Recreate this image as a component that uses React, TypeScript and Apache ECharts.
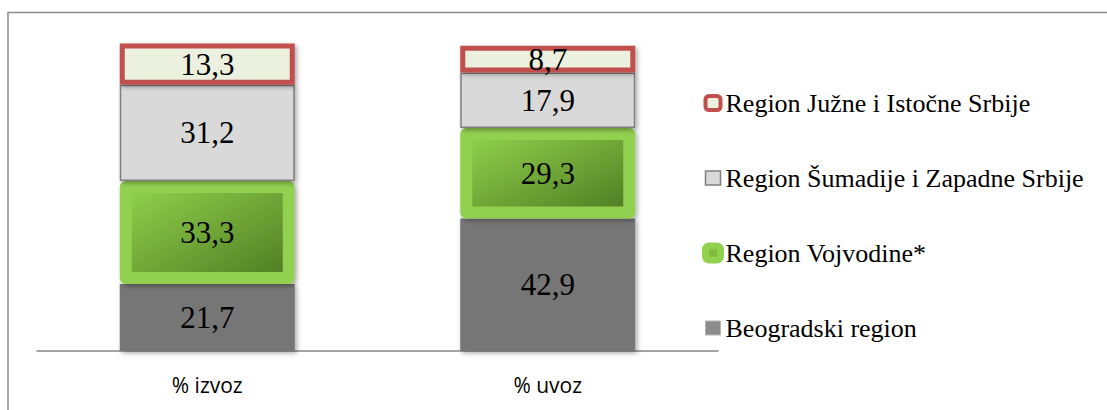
import React, { useEffect, useRef } from "react";
import * as echarts from "echarts";

const categories = ["% izvoz", "% uvoz"];
const seriesNames = [
  "Beogradski region",
  "Region Vojvodine*",
  "Region Šumadije i Zapadne Srbije",
  "Region Južne i Istočne Srbije",
];
const beogradValues = [21.7, 42.9];
const vojvodinaValues = [33.3, 29.3];
const sumadijaValues = [31.2, 17.9];
const juznaValues = [13.3, 8.7];
const yMax = 100;

const SERIF = "Liberation Serif";
const SANS = "Open Sans";

export default function App() {
  const ref = useRef<HTMLDivElement>(null);
  useEffect(() => {
    if (!ref.current) return;
    const chart = echarts.init(ref.current, undefined, { renderer: "svg" });
    const label = {
      show: true,
      position: "inside",
      fontFamily: SERIF,
      fontSize: 31,
      color: "#000",
      formatter: (p: any) => String(p.value).replace(".", ","),
    };
    const shadow = {
      shadowBlur: 5,
      shadowColor: "rgba(0,0,0,0.35)",
      shadowOffsetX: 2,
      shadowOffsetY: 2,
    };
    chart.setOption({
      animation: false,
      graphic: [
        {
          type: "rect",
          shape: { x: 8, y: 12.5, width: 1300, height: 600 },
          style: { fill: "none", stroke: "#8c8c8c", lineWidth: 1.5 },
          z: -10,
          silent: true,
        },
      ],
      grid: { left: 37, right: 389, top: 42, bottom: 59 },
      xAxis: {
        type: "category",
        data: categories,
        axisTick: { show: false },
        axisLine: { lineStyle: { color: "#868686", width: 1.5 } },
        axisLabel: { fontFamily: SANS, fontSize: 21, color: "#000", margin: 23 },
      },
      yAxis: { type: "value", min: 0, max: yMax, show: false, splitLine: { show: false } },
      legend: {
        orient: "vertical",
        left: 702,
        top: 90,
        padding: 0,
        itemGap: 49,
        itemWidth: 15,
        itemHeight: 14,
        textStyle: { fontFamily: SERIF, fontSize: 26, lineHeight: 26, color: "#000" },
        data: [
          {
            name: seriesNames[3],
            icon: "roundRect",
            itemStyle: { color: "#ebf1de", borderColor: "#c0504d", borderWidth: 4 },
          },
          {
            name: seriesNames[2],
            icon: "rect",
            itemStyle: { color: "#d9d9d9", borderColor: "#7f7f7f", borderWidth: 1.5 },
          },
          {
            name: seriesNames[1],
            icon: "roundRect",
            itemStyle: { color: "#7fba3f", borderColor: "#92d050", borderWidth: 7 },
          },
          {
            name: seriesNames[0],
            icon: "rect",
            itemStyle: { color: "#8c8c8c", borderColor: "#b5b5b5", borderWidth: 1 },
          },
        ],
      },
      series: [
        {
          name: seriesNames[0],
          type: "bar",
          stack: "total",
          barWidth: 175,
          data: beogradValues,
          label,
          itemStyle: { color: "#767676", ...shadow },
        },
        {
          name: seriesNames[1],
          type: "bar",
          stack: "total",
          barWidth: 175,
          data: vojvodinaValues,
          label,
          itemStyle: {
            color: new echarts.graphic.LinearGradient(0, 0, 1, 1, [
              { offset: 0, color: "#92d34d" },
              { offset: 1, color: "#4e7b22" },
            ]),
            borderColor: "#92d050",
            borderWidth: 12,
            borderJoin: "round",
            ...shadow,
          },
        },
        {
          name: seriesNames[2],
          type: "bar",
          stack: "total",
          barWidth: 175,
          data: sumadijaValues,
          label,
          itemStyle: { color: "#d9d9d9", borderColor: "#7f7f7f", borderWidth: 1.5, ...shadow },
        },
        {
          name: seriesNames[3],
          type: "bar",
          stack: "total",
          barWidth: 175,
          data: juznaValues,
          label,
          itemStyle: { color: "#ebf1de", borderColor: "#c0504d", borderWidth: 5, ...shadow },
        },
      ],
    });
    return () => chart.dispose();
  }, []);
  return (
    <div
      ref={ref}
      style={{ position: "fixed", left: 0, top: 0, width: 1107, height: 410, background: "#fff" }}
    />
  );
}
